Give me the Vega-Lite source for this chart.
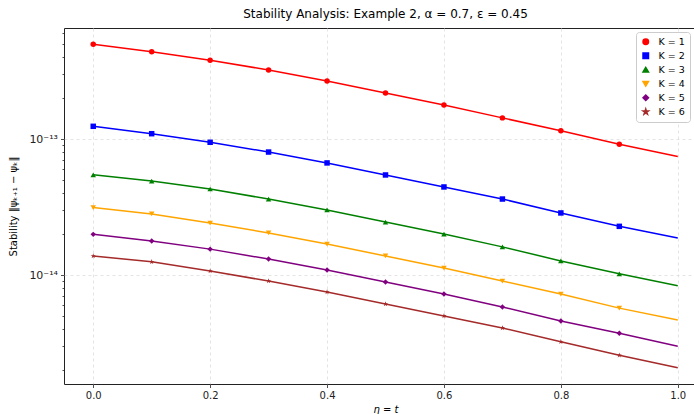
{
  "$schema": "https://vega.github.io/schema/vega-lite/v6.json",
  "autosize": "none",
  "padding": {"left": 64, "top": 28, "right": 0, "bottom": 30},
  "width": 643,
  "height": 356,
  "title": {"text": "Stability Analysis: Example 2, α = 0.7, ε = 0.45", "fontSize": 12, "fontWeight": "normal", "font": "DejaVu Sans", "color": "#000", "offset": 7},
  "data": {"values": [
    {"x": 0.0, "K": "K = 1", "y": 4.97e-13}, {"x": 0.1, "K": "K = 1", "y": 4.38e-13}, {"x": 0.2, "K": "K = 1", "y": 3.79e-13}, {"x": 0.3, "K": "K = 1", "y": 3.22e-13}, {"x": 0.4, "K": "K = 1", "y": 2.67e-13}, {"x": 0.5, "K": "K = 1", "y": 2.18e-13}, {"x": 0.6, "K": "K = 1", "y": 1.78e-13}, {"x": 0.7, "K": "K = 1", "y": 1.43e-13}, {"x": 0.8, "K": "K = 1", "y": 1.15e-13}, {"x": 0.9, "K": "K = 1", "y": 9.14e-14}, {"x": 1.0, "K": "K = 1", "y": 7.43e-14},
    {"x": 0.0, "K": "K = 2", "y": 1.24e-13}, {"x": 0.1, "K": "K = 2", "y": 1.094e-13}, {"x": 0.2, "K": "K = 2", "y": 9.46e-14}, {"x": 0.3, "K": "K = 2", "y": 8.02e-14}, {"x": 0.4, "K": "K = 2", "y": 6.67e-14}, {"x": 0.5, "K": "K = 2", "y": 5.44e-14}, {"x": 0.6, "K": "K = 2", "y": 4.44e-14}, {"x": 0.7, "K": "K = 2", "y": 3.62e-14}, {"x": 0.8, "K": "K = 2", "y": 2.86e-14}, {"x": 0.9, "K": "K = 2", "y": 2.28e-14}, {"x": 1.0, "K": "K = 2", "y": 1.87e-14},
    {"x": 0.0, "K": "K = 3", "y": 5.46e-14}, {"x": 0.1, "K": "K = 3", "y": 4.91e-14}, {"x": 0.2, "K": "K = 3", "y": 4.29e-14}, {"x": 0.3, "K": "K = 3", "y": 3.62e-14}, {"x": 0.4, "K": "K = 3", "y": 3.01e-14}, {"x": 0.5, "K": "K = 3", "y": 2.45e-14}, {"x": 0.6, "K": "K = 3", "y": 2.0e-14}, {"x": 0.7, "K": "K = 3", "y": 1.61e-14}, {"x": 0.8, "K": "K = 3", "y": 1.27e-14}, {"x": 0.9, "K": "K = 3", "y": 1.02e-14}, {"x": 1.0, "K": "K = 3", "y": 8.34e-15},
    {"x": 0.0, "K": "K = 4", "y": 3.13e-14}, {"x": 0.1, "K": "K = 4", "y": 2.81e-14}, {"x": 0.2, "K": "K = 4", "y": 2.41e-14}, {"x": 0.3, "K": "K = 4", "y": 2.04e-14}, {"x": 0.4, "K": "K = 4", "y": 1.69e-14}, {"x": 0.5, "K": "K = 4", "y": 1.38e-14}, {"x": 0.6, "K": "K = 4", "y": 1.125e-14}, {"x": 0.7, "K": "K = 4", "y": 9.03e-15}, {"x": 0.8, "K": "K = 4", "y": 7.25e-15}, {"x": 0.9, "K": "K = 4", "y": 5.71e-15}, {"x": 1.0, "K": "K = 4", "y": 4.67e-15},
    {"x": 0.0, "K": "K = 5", "y": 1.99e-14}, {"x": 0.1, "K": "K = 5", "y": 1.78e-14}, {"x": 0.2, "K": "K = 5", "y": 1.55e-14}, {"x": 0.3, "K": "K = 5", "y": 1.31e-14}, {"x": 0.4, "K": "K = 5", "y": 1.09e-14}, {"x": 0.5, "K": "K = 5", "y": 8.89e-15}, {"x": 0.6, "K": "K = 5", "y": 7.25e-15}, {"x": 0.7, "K": "K = 5", "y": 5.82e-15}, {"x": 0.8, "K": "K = 5", "y": 4.59e-15}, {"x": 0.9, "K": "K = 5", "y": 3.73e-15}, {"x": 1.0, "K": "K = 5", "y": 2.99e-15},
    {"x": 0.0, "K": "K = 6", "y": 1.38e-14}, {"x": 0.1, "K": "K = 6", "y": 1.25e-14}, {"x": 0.2, "K": "K = 6", "y": 1.07e-14}, {"x": 0.3, "K": "K = 6", "y": 9.03e-15}, {"x": 0.4, "K": "K = 6", "y": 7.5e-15}, {"x": 0.5, "K": "K = 6", "y": 6.12e-15}, {"x": 0.6, "K": "K = 6", "y": 5.0e-15}, {"x": 0.7, "K": "K = 6", "y": 4.08e-15}, {"x": 0.8, "K": "K = 6", "y": 3.23e-15}, {"x": 0.9, "K": "K = 6", "y": 2.57e-15}, {"x": 1.0, "K": "K = 6", "y": 2.08e-15}
  ]},
  "encoding": {
    "x": {"field": "x", "type": "quantitative",
      "scale": {"domain": [-0.05, 1.05], "nice": false, "zero": false},
      "axis": {"title": "η = t", "titleFontStyle": "italic", "values": [0, 0.2, 0.4, 0.6, 0.8, 1.0], "format": ".1f", "titlePadding": 4}},
    "y": {"field": "y", "type": "quantitative",
      "scale": {"type": "log", "domain": [1.58e-15, 6.55e-13], "nice": false},
      "axis": {"title": "Stability ‖ψₖ₊₁ − ψₖ‖", "values": [1e-14, 1e-13], "labelExpr": "datum.value < 5e-14 ? '10⁻¹⁴' : '10⁻¹³'", "labelFontSize": 11, "titlePadding": 10}},
    "color": {"field": "K", "type": "nominal",
      "scale": {"domain": ["K = 1", "K = 2", "K = 3", "K = 4", "K = 5", "K = 6"], "range": ["#ff0000", "#0000ff", "#008000", "#ffa500", "#800080", "#a52a2a"]},
      "legend": {"title": null, "orient": "none", "legendX": 572, "legendY": 4}}
  },
  "layer": [
    {"mark": {"type": "line", "strokeWidth": 1.5}},
    {"transform": [{"filter": "datum.x < 0.95"}],
     "mark": {"type": "point", "filled": true, "opacity": 1, "size": 30},
     "encoding": {
       "shape": {"field": "K", "type": "nominal",
         "scale": {"domain": ["K = 1", "K = 2", "K = 3", "K = 4", "K = 5", "K = 6"], "range": ["circle", "square", "triangle-up", "triangle-down", "diamond", "M0,-1L0.2245,-0.309L0.951,-0.309L0.363,0.118L0.588,0.809L0,0.382L-0.588,0.809L-0.363,0.118L-0.951,-0.309L-0.2245,-0.309Z"]},
         "legend": {"title": null, "orient": "none", "legendX": 572, "legendY": 4}},
       "y": {"field": "y", "type": "quantitative",
         "axis": {"orient": "left", "title": null, "labels": false, "grid": false, "domain": false, "tickSize": 2,
           "values": [2e-15, 3e-15, 4e-15, 5e-15, 6e-15, 7e-15, 8e-15, 9e-15, 2e-14, 3e-14, 4e-14, 5e-14, 6e-14, 7e-14, 8e-14, 9e-14, 2e-13, 3e-13, 4e-13, 5e-13, 6e-13]}}
     }}
  ],
  "resolve": {"axis": {"y": "independent"}},
  "config": {
    "font": "DejaVu Sans",
    "view": {"stroke": "#222", "strokeWidth": 1},
    "axis": {"domain": false, "grid": true, "gridDash": [3, 3], "gridColor": "#ddd", "gridWidth": 0.8,
      "tickColor": "#222", "tickSize": 3.5, "tickWidth": 0.8, "labelFontSize": 10, "labelColor": "#222",
      "titleFontSize": 10, "titleFontWeight": "normal", "titleColor": "#000", "labelPadding": 3},
    "legend": {"fillColor": "#fff", "strokeColor": "#ccc", "cornerRadius": 3, "padding": 5,
      "labelFontSize": 9.5, "labelColor": "#000", "symbolSize": 30, "rowPadding": 2, "symbolOpacity": 1, "symbolStrokeWidth": 1.5, "labelOffset": 8}
  }
}
